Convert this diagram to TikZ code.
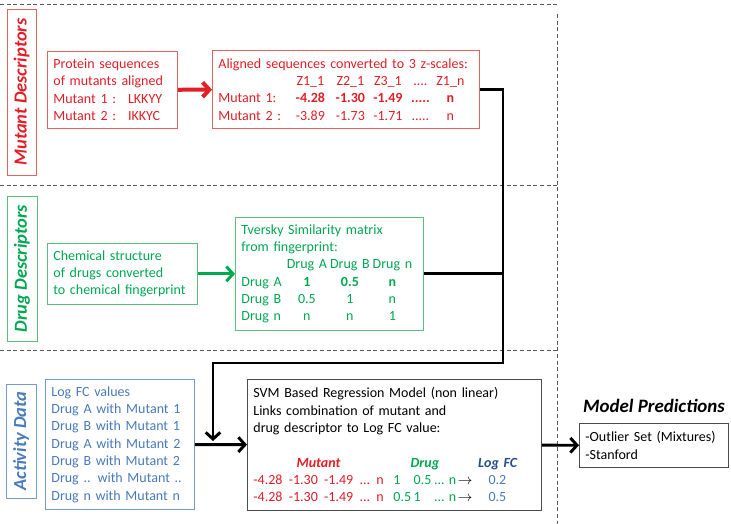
\documentclass[tikz,border=0pt]{standalone}
\usepackage{fontspec}
\setmainfont{Carlito}
\usetikzlibrary{positioning,arrows.meta}

\definecolor{mutred}{RGB}{226,30,38}
\definecolor{mutline}{RGB}{232,96,96}
\definecolor{druggreen}{RGB}{0,168,80}
\definecolor{drugline}{RGB}{90,190,125}
\definecolor{actblue}{RGB}{72,122,188}
\definecolor{actline}{RGB}{120,155,200}
\definecolor{logblue}{RGB}{36,78,140}

\begin{document}
\begin{tikzpicture}[x=0.75pt,y=-0.75pt,>={Straight Barb[length=5pt,width=11pt]},font=\fontsize{10.5}{13}\selectfont]
    \tikzstyle{box}=[draw, anchor=north west, align=left, inner xsep=4.5pt, inner ysep=0pt, line width=0.6pt]
    \tikzstyle{mutant box}=[box, draw=mutline, text=mutred]
    \tikzstyle{drug box}=[box, draw=drugline, text=druggreen]
    \tikzstyle{activity box}=[box, draw=actline, text=actblue]
    \tikzstyle{model box}=[box, draw=black!70, text=black]
    \tikzstyle{section}=[draw, rotate=90, inner sep=0pt, line width=0.6pt, font=\fontsize{13.8}{15}\selectfont\bfseries\itshape]
    \tikzstyle{sep line}=[densely dashed, black!65, line width=0.5pt]
    \tikzstyle{link}=[line width=2.2pt, black]

    \newcommand{\zrow}[6]{\makebox[54pt][l]{#1}\makebox[30pt]{#2}\makebox[30pt]{#3}\makebox[26.25pt]{#4}\makebox[22.5pt]{#5}\makebox[22.5pt]{#6}}
    \newcommand{\drow}[4]{\makebox[33pt][l]{#1}\makebox[32.25pt]{#2}\makebox[32.25pt]{#3}\makebox[31.5pt]{#4}}
    \newcommand{\gap}{\hspace{0.45em}}
    \newcommand{\svmrow}[3]{\makebox[10em][l]{\textcolor{mutred}{-4.28\gap-1.30\gap-1.49\gap...\gap n}}%
        \makebox[4.6em][l]{\textcolor{druggreen}{\makebox[1.45em][l]{#1}\makebox[1.45em][l]{#2}...\hspace{0.3em}n}}%
        \makebox[2.2em][l]{$\rightarrow$}\textcolor{actblue}{#3}}

    \useasboundingbox (0,0) rectangle (731,524);

    % Separators between the sections
    \foreach \y in {4,185,350}
        \draw[sep line] (0,\y) -- (557,\y);
    \draw[sep line] (557,14) -- (557,524);

    % Section labels
    \node[section, draw=mutline, text=mutred, minimum width=124.5pt, minimum height=21.75pt] (mutsec) at (21.5,92) {Mutant Descriptors};
    \node[section, draw=drugline, text=druggreen, minimum width=108.75pt, minimum height=22.5pt] (drugsec) at (22,268.5) {Drug Descriptors};
    \node[section, draw=actline, text=actblue, minimum width=85.5pt, minimum height=22.5pt] (actsec) at (21,441) {Activity Data};

    % Mutant descriptors
    \node[mutant box, text width=88.5pt, minimum height=57.75pt] (seq) at (47,51)
        {Protein sequences\\ of mutants aligned\\ \makebox[56pt][l]{Mutant 1 :}LKKYY\\ \makebox[56pt][l]{Mutant 2 :}IKKYC};
    \node[mutant box, text width=191.25pt, minimum height=58.5pt] (zs) at (212,50)
        {Aligned sequences converted to 3 z-scales:\\
         \zrow{}{Z1\_1}{Z2\_1}{Z3\_1}{....}{Z1\_n}\\
         \zrow{Mutant 1:}{\textbf{-4.28}}{\textbf{-1.30}}{\textbf{-1.49}}{\textbf{.....}}{\textbf{n}}\\
         \zrow{Mutant 2 :}{-3.89}{-1.73}{-1.71}{.....}{n}};

    % Drug descriptors
    \node[drug box, text width=103.5pt, minimum height=45.75pt] (chem) at (47,243)
        {Chemical structure\\ of drugs converted\\ to chemical fingerprint};
    \node[drug box, text width=132pt, minimum height=84.75pt] (sim) at (235,217)
        {Tversky Similarity matrix\\ from fingerprint:\\
         \drow{}{Drug A}{Drug B}{Drug n}\\
         \drow{Drug A}{\textbf{1}}{\textbf{0.5}}{\textbf{n}}\\
         \drow{Drug B}{0.5}{1}{n}\\
         \drow{Drug n}{n}{n}{1}};

    % Activity data and model
    \node[activity box, text width=102.75pt, minimum height=97.5pt] (act) at (45,379)
        {Log FC values\\ Drug A with Mutant 1\\ Drug B with Mutant 1\\ Drug A with Mutant 2\\
         Drug B with Mutant 2\\ Drug .. with Mutant ..\\ Drug n with Mutant n};
    \node[model box, text width=211.5pt, minimum height=98.25pt] (svm) at (247,379)
        {SVM Based Regression Model (non linear)\\
         Links combination of mutant and\\
         drug descriptor to Log FC value:\\
         \mbox{}\\
         {\bfseries\itshape\makebox[9.3em]{\textcolor{mutred}{Mutant}}\hspace{0.7em}\makebox[4.5em]{\textcolor{druggreen}{Drug}}\hspace{2.3em}\makebox[1.3em]{\textcolor{logblue}{Log FC}}}\\
         \svmrow{1}{0.5}{0.2}\\
         \svmrow{0.5}{1}{0.5}};

    % Predictions
    \node[model box, text width=102.75pt, minimum height=33pt] (out) at (579,423)
        {-Outlier Set (Mixtures)\\ -Stanford};
    \node[font=\fontsize{14.2}{16}\selectfont\bfseries\itshape, above=4pt of out] (pred) {Model Predictions};

    % Connections
    \coordinate (bend) at (503,363);
    \coordinate (drop) at (213,363);
    \coordinate (tip) at (213,441);
    \draw[->, line width=3pt, mutred] (seq) -- (zs);
    \draw[->, line width=2.2pt, druggreen] (chem) -- (sim);
    \draw[link, ->] (zs.east) -| (bend) -- (drop) -- (tip);
    \draw[link] (sim.east) -| (bend);
    \draw[link, ->] (act) -- (svm);
    \draw[link, ->] (svm) -- (out);
\end{tikzpicture}
\end{document}
